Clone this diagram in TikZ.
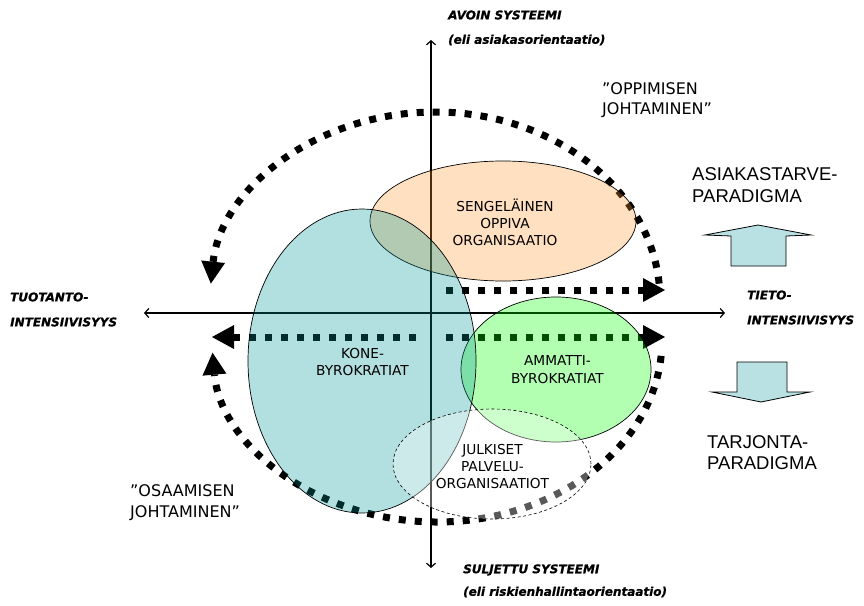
\documentclass[tikz,border=0pt]{standalone}
\usepackage{fontspec}
\setmainfont{DejaVu Sans}
\newfontfamily\arialfont{Liberation Sans}
\newfontfamily\axisfont[FakeBold=0.8]{DejaVu Sans Bold Oblique}
\usetikzlibrary{arrows.meta}

\definecolor{tealfill}{RGB}{0,148,148}
\definecolor{greenfill}{RGB}{0,255,0}
\definecolor{peachfill}{RGB}{255,152,45}
\definecolor{blockfill}{RGB}{185,225,228}

\begin{document}
\begin{tikzpicture}[x=1pt,y=-1pt,
  axis/.style={line width=1.2pt,
    {Straight Barb[length=4pt,width=9pt]}-{Straight Barb[length=4pt,width=9pt]}},
  dotarrow/.style={line width=7pt, dash pattern=on 7pt off 9pt,
    -{Triangle[length=22pt,width=24pt,line width=0pt]}},
  orgshape/.style={draw=black, line width=0.7pt, fill opacity=0.3},
  axislabel/.style={font=\axisfont\fontsize{12}{14}\selectfont,
    anchor=west, inner sep=0pt},
  orglabel/.style={font=\fontsize{13.7}{17}\selectfont, align=center, inner sep=0pt},
  quotelabel/.style={font=\fontsize{16}{20}\selectfont, align=left, anchor=west, inner sep=0pt},
  paradigm/.style={font=\arialfont\fontsize{18.5}{21.5}\selectfont, align=left,
    anchor=west, inner sep=0pt},
  blockarrow/.style={draw=black, line width=0.8pt, fill=blockfill, line join=miter}
]
\useasboundingbox (0,0) rectangle (864,605);

% axes
\coordinate (vtop) at (431,40);
\coordinate (vbot) at (431,568);
\coordinate (hleft) at (144,313);
\coordinate (hright) at (725,313);
\draw[axis] (vbot) -- (vtop);
\draw[axis] (hleft) -- (hright);

% dotted cycle arrows
\coordinate (upc) at (435,300);
\coordinate (loc) at (437,340);
\draw[dotarrow] (upc) ++(5:225pt and 188pt)
  arc[start angle=5, end angle=175, x radius=225pt, y radius=188pt];
\draw[dotarrow] (loc) ++(-5:225pt and 182pt)
  arc[start angle=-5, end angle=-176, x radius=225pt, y radius=182pt];

\coordinate (topstart) at (446,290);
\coordinate (topend) at (665,290);
\coordinate (midrstart) at (446,337);
\coordinate (midrend) at (665,337);
\coordinate (midlstart) at (416,337);
\coordinate (midlend) at (212,337);
\draw[dotarrow] (topstart) -- (topend);
\draw[dotarrow] (midrstart) -- (midrend);
\draw[dotarrow] (midlstart) -- (midlend);

% organisation types
\draw[orgshape, fill=peachfill] (503,221) ellipse [x radius=133pt, y radius=60pt];
\draw[orgshape, fill=greenfill] (556,369.5) ellipse [x radius=95pt, y radius=72.5pt];
\draw[orgshape, fill=tealfill] (362,361) ellipse [x radius=114pt, y radius=152pt];
\draw[draw=black, line width=0.6pt, dash pattern=on 3pt off 2.5pt, fill=white, fill opacity=0.35]
  (492,464) ellipse [x radius=99pt, y radius=55pt];

\node[orglabel] (senge) at (505,222) {SENGELÄINEN\\OPPIVA\\ORGANISAATIO};
\node[orglabel] (kone) at (362.5,362.5) {KONE-\\BYROKRATIAT};
\node[orglabel, font=\fontsize{13.7}{18}\selectfont] (ammatti) at (557.5,370) {AMMATTI-\\BYROKRATIAT};
\node[orglabel, font=\fontsize{13.7}{16.7}\selectfont] (julkiset) at (492.5,466.5) {JULKISET\\PALVELU-\\ORGANISAATIOT};

% axis labels
\node[axislabel] (avoin) at (448,15) {AVOIN SYSTEEMI};
\node[axislabel] (avoin2) at (448,40) {(eli asiakasorientaatio)};
\node[axislabel] (suljettu) at (463,570) {SULJETTU SYSTEEMI};
\node[axislabel] (suljettu2) at (463,592) {(eli riskienhallintaorientaatio)};
\node[axislabel] (tuotanto) at (10,297) {TUOTANTO-};
\node[axislabel] (tuotanto2) at (10,322) {INTENSIIVISYYS};
\node[axislabel] (tieto) at (747,295) {TIETO-};
\node[axislabel] (tieto2) at (747,320) {INTENSIIVISYYS};

% management labels
\node[quotelabel] (oppiminen) at (602,100) {”OPPIMISEN\\JOHTAMINEN”};
\node[quotelabel, font=\fontsize{16}{21}\selectfont] (osaaminen) at (130,502.5) {”OSAAMISEN\\JOHTAMINEN”};

% paradigm shift
\node[paradigm] (asiakas) at (692,185) {ASIAKASTARVE-\\PARADIGMA};
\node[paradigm] (tarjonta) at (707,452.5) {TARJONTA-\\PARADIGMA};
\draw[blockarrow] (705,235) -- (758,225) -- (811,235) -- (786,236) -- (786,266)
  -- (731,266) -- (731,236) -- cycle;
\draw[blockarrow] (737,362) -- (787,362) -- (787,392) -- (810,392) -- (761,402)
  -- (712,392) -- (737,392) -- cycle;
\end{tikzpicture}
\end{document}
